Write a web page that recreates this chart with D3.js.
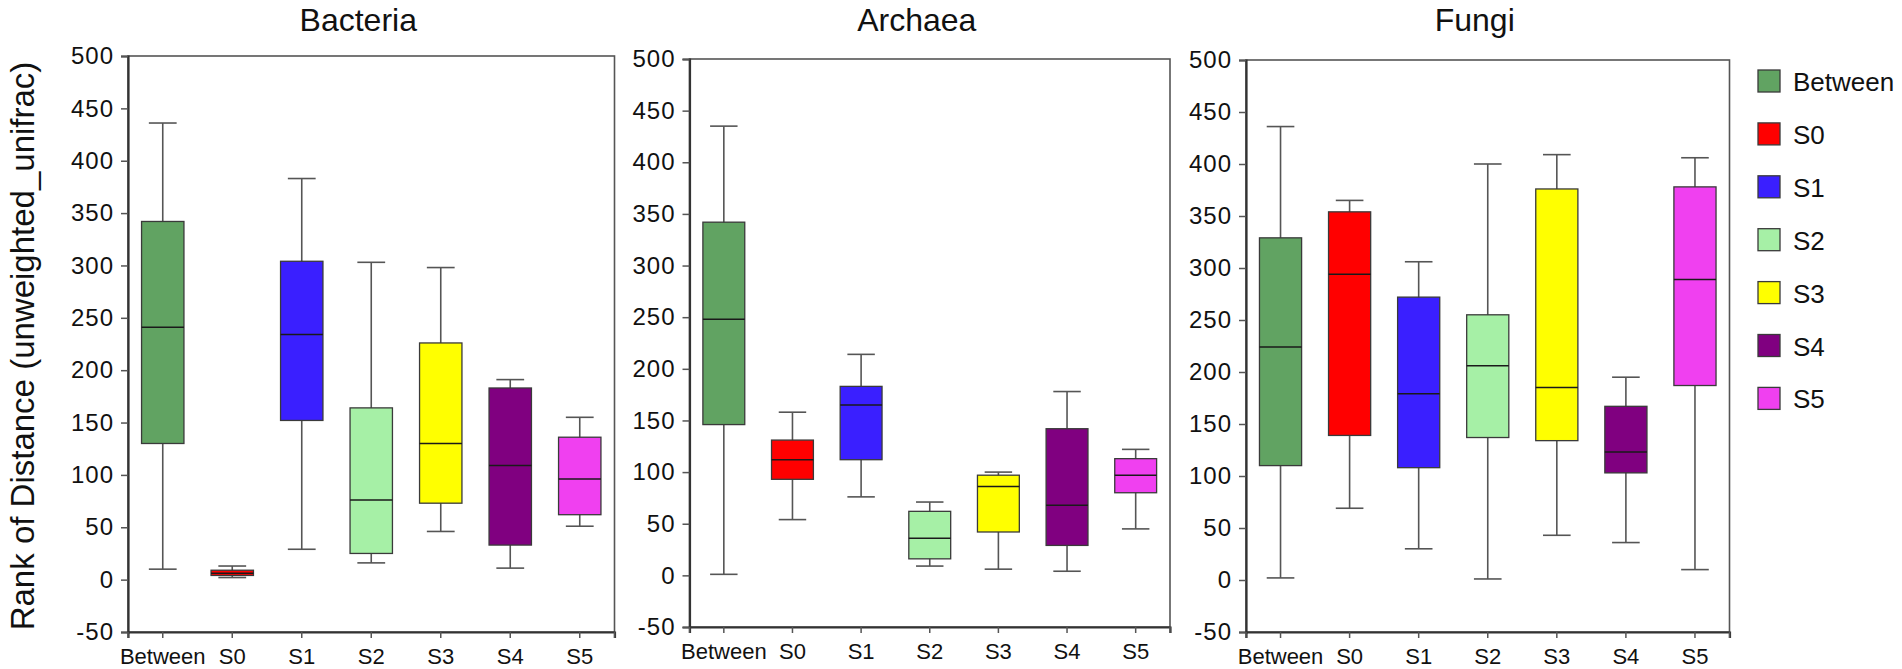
<!DOCTYPE html>
<html>
<head>
<meta charset="utf-8">
<script src="https://cdn.jsdelivr.net/npm/d3@7"></script>
<style>
    body { margin: 0; background: #fff; }
    text { font-family: "Liberation Sans", Arial, sans-serif; fill: #111; }
</style>
</head>
<body>
<svg id="chart" width="1902" height="669"></svg>
<script>
const groups = ["Between", "S0", "S1", "S2", "S3", "S4", "S5"]
const groupColors = ["#61a362", "#ff0000", "#3a1fff", "#a6f0a6", "#ffff00", "#800080", "#f040f0"]
const panelTitles = ["Bacteria", "Archaea", "Fungi"]
const yTicks = [-50, 0, 50, 100, 150, 200, 250, 300, 350, 400, 450, 500]

// each row: [whisker low, Q1, median, Q3, whisker high]
const bacteria = [
    [10, 130, 241, 342, 436],
    [2, 4, 6, 9, 13],
    [29, 152, 234, 304, 383],
    [16, 25, 76, 164, 303],
    [46, 73, 130, 226, 298],
    [11, 33, 109, 183, 191],
    [51, 62, 96, 136, 155]
]
const archaea = [
    [1, 146, 248, 342, 435],
    [54, 93, 112, 131, 158],
    [76, 112, 165, 183, 214],
    [9, 16, 36, 62, 71],
    [6, 42, 86, 97, 100],
    [4, 29, 68, 142, 178],
    [45, 80, 97, 113, 122]
]
const fungi = [
    [2, 110, 224, 329, 436],
    [69, 139, 294, 354, 365],
    [30, 108, 179, 272, 306],
    [1, 137, 206, 255, 400],
    [43, 134, 185, 376, 409],
    [36, 103, 123, 167, 195],
    [10, 187, 289, 378, 406]
]
const panelData = [bacteria, archaea, fungi]

// plot frames, in pixels
const panelFrames = [
    {left: 128, right: 614.5, top: 56, bottom: 632},
    {left: 689.5, right: 1170, top: 59, bottom: 627},
    {left: 1246, right: 1729.5, top: 60, bottom: 632}
]

const svg = d3.select("#chart")

function drawPanel(rows, frame, title) {
    const y = d3.scaleLinear().domain([-50, 500]).range([frame.bottom, frame.top])
    const x = d3.scaleBand()
        .domain(groups)
        .range([frame.left, frame.right])
        .paddingInner(0.39)
        .paddingOuter(0.195)
    const capHalf = x.step() * 0.2

    const g = svg.append("g")

    g.append("rect")
        .attr("x", frame.left)
        .attr("y", frame.top)
        .attr("width", frame.right - frame.left)
        .attr("height", frame.bottom - frame.top)
        .attr("fill", "none")
        .attr("stroke", "#555")
        .attr("stroke-width", 1.6)

    const yAxis = g.append("g")
        .attr("transform", `translate(${frame.left},0)`)
        .call(d3.axisLeft(y).tickValues(yTicks).tickFormat(d => String(d)).tickSize(7).tickPadding(7))
    yAxis.select(".domain").attr("stroke", "#333").attr("stroke-width", 2.2)
    yAxis.selectAll(".tick line").attr("stroke", "#555").attr("stroke-width", 1.5)
    yAxis.selectAll(".tick text")
        .attr("font-size", 24)
        .attr("letter-spacing", 1)
        .attr("fill", "#111")

    const xAxis = g.append("g")
        .attr("transform", `translate(0,${frame.bottom})`)
        .call(d3.axisBottom(x).tickSize(6).tickPadding(10))
    xAxis.select(".domain").attr("stroke", "#333").attr("stroke-width", 2.2)
    xAxis.selectAll(".tick line").attr("stroke", "#555").attr("stroke-width", 1.5)
    xAxis.selectAll(".tick text")
        .attr("font-size", 22)
        .attr("fill", "#111")

    // small ticks at both ends of the x axis
    g.selectAll(".end-tick")
        .data(x.range())
        .enter()
        .append("line")
        .attr("x1", d => d)
        .attr("x2", d => d)
        .attr("y1", frame.bottom)
        .attr("y2", frame.bottom + 6)
        .attr("stroke", "#555")
        .attr("stroke-width", 1.5)

    const box = g.selectAll(".box")
        .data(rows)
        .enter()
        .append("g")
        .attr("transform", (d, i) => `translate(${x(groups[i]) + x.bandwidth() / 2},0)`)

    box.append("line")
        .attr("x1", 0)
        .attr("x2", 0)
        .attr("y1", d => y(d[0]))
        .attr("y2", d => y(d[4]))
        .attr("stroke", "#555")
        .attr("stroke-width", 1.6)
    box.append("line")
        .attr("x1", -capHalf)
        .attr("x2", capHalf)
        .attr("y1", d => y(d[0]))
        .attr("y2", d => y(d[0]))
        .attr("stroke", "#555")
        .attr("stroke-width", 1.6)
    box.append("line")
        .attr("x1", -capHalf)
        .attr("x2", capHalf)
        .attr("y1", d => y(d[4]))
        .attr("y2", d => y(d[4]))
        .attr("stroke", "#555")
        .attr("stroke-width", 1.6)
    box.append("rect")
        .attr("x", -x.bandwidth() / 2)
        .attr("width", x.bandwidth())
        .attr("y", d => y(d[3]))
        .attr("height", d => y(d[1]) - y(d[3]))
        .attr("fill", (d, i) => groupColors[i])
        .attr("stroke", "#3a3a3a")
        .attr("stroke-width", 1.3)
    box.append("line")
        .attr("x1", -x.bandwidth() / 2)
        .attr("x2", x.bandwidth() / 2)
        .attr("y1", d => y(d[2]))
        .attr("y2", d => y(d[2]))
        .attr("stroke", "#1a1a1a")
        .attr("stroke-width", 1.5)

    g.append("text")
        .text(title)
        .attr("x", (frame.left + frame.right) / 2 - 13)
        .attr("y", 31)
        .attr("text-anchor", "middle")
        .attr("font-size", 32)
}

panelData.forEach((rows, i) => drawPanel(rows, panelFrames[i], panelTitles[i]))

svg.append("text")
    .text("Rank of Distance (unweighted_unifrac)")
    .attr("transform", "translate(34,346) rotate(-90)")
    .attr("text-anchor", "middle")
    .attr("font-size", 33)

const legendItem = svg.append("g")
    .selectAll("g")
    .data(groups)
    .enter()
    .append("g")
    .attr("transform", (d, i) => `translate(1758,${70 + i * 52.9})`)

legendItem.append("rect")
    .attr("width", 22)
    .attr("height", 22)
    .attr("fill", (d, i) => groupColors[i])
    .attr("stroke", "#3a3a3a")
    .attr("stroke-width", 1.3)

legendItem.append("text")
    .text(d => d)
    .attr("x", 35)
    .attr("y", 21)
    .attr("font-size", 26)
</script>
</body>
</html>
